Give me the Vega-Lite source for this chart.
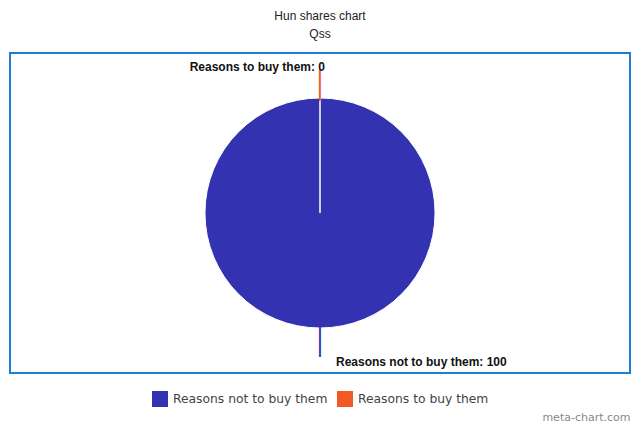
{
  "$schema": "https://vega.github.io/schema/vega-lite/v6.json",
  "width": 620,
  "height": 320,
  "padding": {"left": 10, "top": 10, "right": 10, "bottom": 6},
  "title": {
    "text": "Hun shares chart",
    "subtitle": "Qss",
    "anchor": "middle",
    "font": "Liberation Sans",
    "fontSize": 12,
    "fontWeight": "normal",
    "color": "#222",
    "subtitleFont": "Liberation Sans",
    "subtitleFontSize": 12,
    "subtitleColor": "#222",
    "subtitlePadding": 6,
    "offset": 12
  },
  "data": {
    "values": [
      {"reason": "Reasons not to buy them", "value": 100},
      {"reason": "Reasons to buy them", "value": 0}
    ]
  },
  "transform": [
    {"calculate": "datum.reason + ': ' + datum.value", "as": "label"}
  ],
  "encoding": {
    "theta": {"field": "value", "type": "quantitative", "stack": true},
    "color": {
      "field": "reason",
      "type": "nominal",
      "scale": {
        "domain": ["Reasons not to buy them", "Reasons to buy them"],
        "range": ["#3333b2", "#f15a22"]
      },
      "legend": {
        "orient": "bottom",
        "direction": "horizontal",
        "title": null,
        "symbolType": "square",
        "symbolSize": 256,
        "symbolStrokeWidth": 0,
        "symbolOpacity": 1,
        "labelFont": "DejaVu Sans",
        "labelFontSize": 12.3,
        "labelColor": "#444",
        "labelLimit": 300,
        "labelOffset": 5,
        "columnPadding": 9,
        "offset": -31
      }
    }
  },
  "layer": [
    {
      "mark": {"type": "arc", "outerRadius": 115, "stroke": "white", "strokeWidth": 1}
    },
    {
      "mark": {"type": "text", "radius": 128, "fontSize": 26, "font": "DejaVu Sans", "fontWeight": 100},
      "encoding": {"text": {"value": "│"}}
    },
    {
      "mark": {"type": "text", "radius": 146, "align": "right", "dx": 5, "font": "Liberation Sans", "fontWeight": "bold", "fontSize": 12},
      "encoding": {
        "color": {"value": "#111"},
        "text": {"condition": {"test": "datum.reason == 'Reasons to buy them'", "field": "label"}, "value": ""}
      }
    },
    {
      "mark": {"type": "text", "radius": 149, "align": "left", "dx": 16, "font": "Liberation Sans", "fontWeight": "bold", "fontSize": 12},
      "encoding": {
        "color": {"value": "#111"},
        "text": {"condition": {"test": "datum.reason == 'Reasons not to buy them'", "field": "label"}, "value": ""}
      }
    },
    {
      "mark": {"type": "text"},
      "encoding": {
        "theta": null,
        "color": null,
        "x": {
          "datum": 0,
          "type": "quantitative",
          "scale": {"domain": [0, 1]},
          "axis": {
            "title": "meta-chart.com",
            "titleAnchor": "end",
            "titleFont": "DejaVu Sans",
            "titleFontSize": 11,
            "titleFontWeight": "normal",
            "titleColor": "#888",
            "titleY": 38,
            "domain": false,
            "ticks": false,
            "labels": false,
            "grid": false
          }
        },
        "text": {"value": ""}
      }
    }
  ],
  "config": {
    "view": {"stroke": "#1f7bd4", "strokeWidth": 2},
    "legend": {"layout": {"bottom": {"anchor": "middle"}}}
  }
}
